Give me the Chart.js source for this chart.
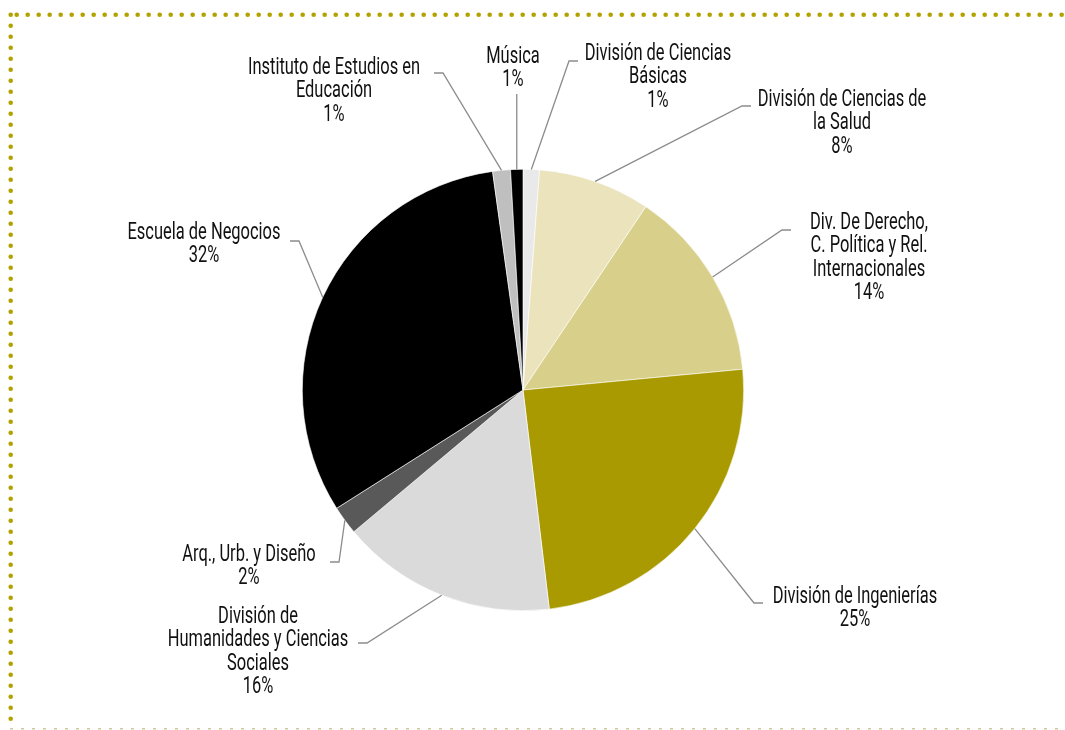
<!DOCTYPE html>
<html>
<head>
<meta charset="utf-8">
<script src="https://cdn.jsdelivr.net/npm/chart.js@4.4.1/dist/chart.umd.min.js"></script>
<style>
  html, body { margin: 0; padding: 0; background: #fff; }
  #wrap { width: 1065px; height: 730px; position: relative; }
</style>
</head>
<body>
<div id="wrap"><canvas id="pie" width="1065" height="730"></canvas></div>
<script>
// data, clockwise from 12 o'clock
const categories = [
  ['División de Ciencias', 'Básicas'],
  ['División de Ciencias de', 'la Salud'],
  ['Div. De Derecho,', 'C. Política y Rel.', 'Internacionales'],
  ['División de Ingenierías'],
  ['División de', 'Humanidades y Ciencias', 'Sociales'],
  ['Arq., Urb. y Diseño'],
  ['Escuela de Negocios'],
  ['Instituto de Estudios en', 'Educación'],
  ['Música']
];
const values = [1.2, 8.2, 14.1, 24.6, 15.8, 2.1, 31.8, 1.3, 0.9];
const colors = ['#e9e9e9', '#ebe3bc', '#d8cf8b', '#a89a00', '#dadada', '#595959', '#000000', '#bfbfbf', '#000000'];

// label placement, offsets from the pie centre (elbow of leader, text centre x, first line y)
const labelLayout = [
  { ex: 46, ey: -329, tx: 135, ty: -336 },
  { ex: 219, ey: -284, tx: 319, ty: -290 },
  { ex: 259, ey: -160, tx: 346, ty: -167 },
  { ex: 231, ey: 213, tx: 332, ty: 207 },
  { ex: -156, ey: 253, tx: -265, ty: 227 },
  { ex: -184, ey: 172, tx: -274, ty: 165 },
  { ex: -224, ey: -149, tx: -319, ty: -157 },
  { ex: -80, ey: -317, tx: -189, ty: -322 },
  { ex: null, ey: -296, tx: -10, ty: -333 }
];

const FONT = '23px Roboto, "Liberation Sans", sans-serif';
const LINE_H = 23.5;

const frame = {
  id: 'frame',
  beforeDraw(chart) {
    const ctx = chart.ctx;
    ctx.save();
    ctx.fillStyle = '#b3a100';
    ctx.beginPath(); ctx.arc(10.7, 14.7, 2.3, 0, Math.PI * 2); ctx.fill();
    for (let x = 16.7; x < 1066; x += 11) {
      ctx.beginPath(); ctx.arc(x, 14.7, 2.3, 0, Math.PI * 2); ctx.fill();
    }
    for (let y = 25.7; y < 720; y += 11) {
      ctx.beginPath(); ctx.arc(10.7, y, 2.3, 0, Math.PI * 2); ctx.fill();
    }
    ctx.fillStyle = '#cfc89a';
    for (let x = 10; x < 1065; x += 11) {
      ctx.fillRect(x, 728, 3, 1.5);
    }
    ctx.restore();
  }
};

const outLabels = {
  id: 'outLabels',
  afterDatasetsDraw(chart) {
    const ctx = chart.ctx;
    const meta = chart.getDatasetMeta(0);
    const total = values.reduce((a, b) => a + b, 0);
    ctx.save();
    ctx.font = FONT;
    // squeeze the font to match the narrow face of the original
    const sx0 = 153 / ctx.measureText('Escuela de Negocios').width;
    meta.data.forEach((arc, i) => {
      const p = arc.getProps(['x', 'y', 'startAngle', 'endAngle', 'outerRadius'], true);
      const mid = (p.startAngle + p.endAngle) / 2;
      const sx = p.x + Math.cos(mid) * p.outerRadius;
      const sy = p.y + Math.sin(mid) * p.outerRadius;
      const L = labelLayout[i];
      ctx.strokeStyle = '#8c8c8c';
      ctx.lineWidth = 1.3;
      ctx.beginPath();
      ctx.moveTo(sx, sy);
      if (L.ex === null) {
        ctx.lineTo(sx, p.y + L.ey);
      } else {
        const ex = p.x + L.ex, ey = p.y + L.ey;
        ctx.lineTo(ex, ey);
        ctx.lineTo(ex + (L.tx > L.ex ? 9 : -9), ey);
      }
      ctx.stroke();

      const lines = categories[i].concat([Math.round(values[i] / total * 100) + '%']);
      ctx.fillStyle = '#111';
      ctx.textAlign = 'center';
      ctx.textBaseline = 'middle';
      lines.forEach((t, k) => {
        ctx.save();
        ctx.translate(p.x + L.tx, p.y + L.ty + k * LINE_H);
        ctx.scale(sx0, 1);
        ctx.fillText(t, 0, 0);
        ctx.restore();
      });
    });
    ctx.restore();
  }
};

new Chart(document.getElementById('pie').getContext('2d'), {
  type: 'pie',
  data: {
    labels: categories,
    datasets: [{
      data: values,
      backgroundColor: colors,
      borderColor: '#ffffff',
      borderWidth: 0.6
    }]
  },
  options: {
    responsive: false,
    animation: false,
    layout: { padding: { left: 302, right: 321, top: 169, bottom: 119 } },
    plugins: {
      legend: { display: false },
      tooltip: { enabled: false }
    }
  },
  plugins: [frame, outLabels]
});
</script>
</body>
</html>
